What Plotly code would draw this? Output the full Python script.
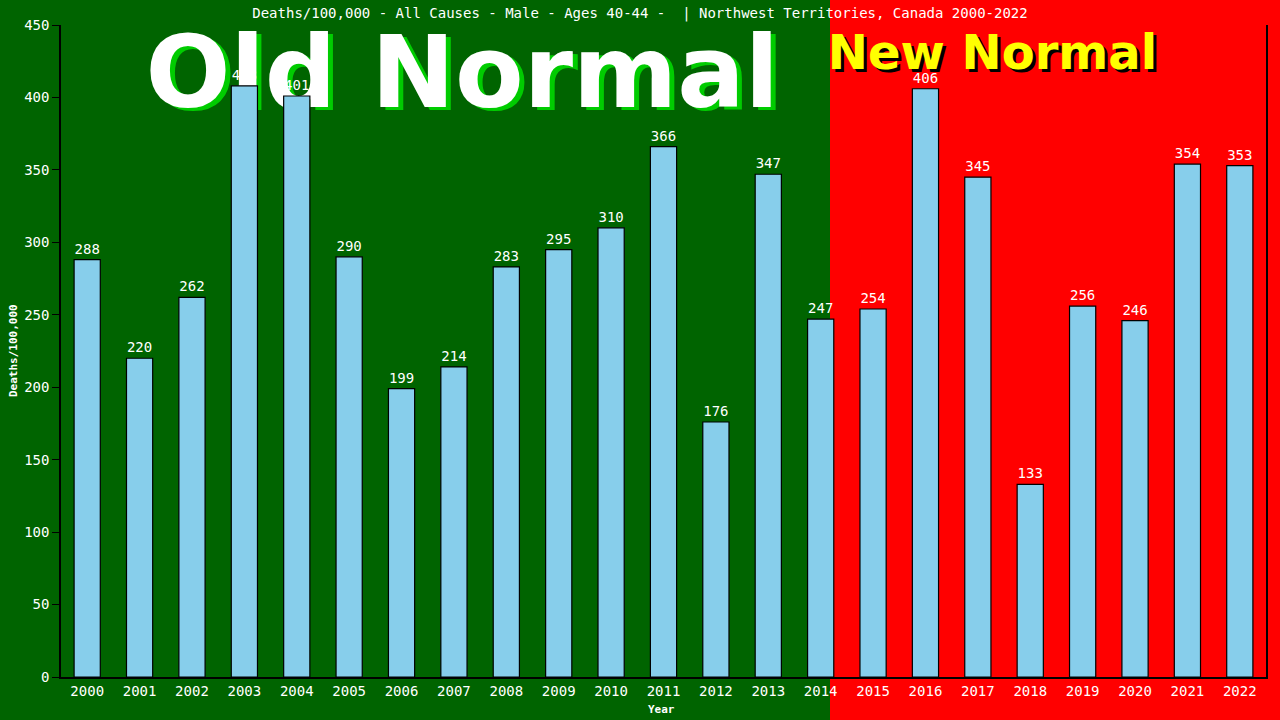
import plotly.graph_objects as go

YEARS = [str(y) for y in range(2000, 2023)]
DEATHS = [288, 220, 262, 408, 401, 290, 199, 214, 283, 295, 310, 366,
          176, 347, 247, 254, 406, 345, 133, 256, 246, 354, 353]
Y_TICKS = list(range(0, 451, 50))

TITLE = "Deaths/100,000 - All Causes - Male - Ages 40-44 -  | Northwest Territories, Canada 2000-2022"
X_TITLE = "Year"
Y_TITLE = "Deaths/100,000"
MONO = "DejaVu Sans Mono, monospace"
BIG = "DejaVu Sans, sans-serif"

W, H = 1280, 720
L, R, T, B = 61, 14, 25, 43
PW, PH = W - L - R, H - T - B


def px(dx, dy):
    return dx / PW, dy / PH


fig = go.Figure()

# banner texts on the base axes (drawn underneath the bars)
def banner(text, x, y, size, color, shadow, off):
    ox, oy = px(*off)
    fig.add_trace(go.Scatter(x=[x + ox], y=[y - oy], mode="text", text=[f"<b>{text}</b>"],
                             textfont=dict(family=BIG, size=size, color=shadow),
                             hoverinfo="skip", showlegend=False, cliponaxis=False))
    fig.add_trace(go.Scatter(x=[x], y=[y], mode="text", text=[f"<b>{text}</b>"],
                             textfont=dict(family=BIG, size=size, color=color),
                             hoverinfo="skip", showlegend=False, cliponaxis=False))


banner("Old Normal", 0.333, 0.912, 100, "white", "#00cc00", (5, 3))
banner("New Normal", 0.773, 0.951, 48, "#ffff00", "black", (3, 3))

fig.add_trace(go.Bar(
    x=YEARS, y=DEATHS, xaxis="x2", yaxis="y2",
    width=0.5,
    marker=dict(color="#87ceeb", line=dict(color="black", width=1.2)),
    text=[str(v) for v in DEATHS], textposition="outside",
    textfont=dict(family=MONO, size=14, color="white"),
    cliponaxis=False, showlegend=False,
))

axis_title_font = dict(family=MONO, size=11, color="white")

fig.update_layout(
    width=W, height=H,
    margin=dict(l=L, r=R, t=T, b=B),
    paper_bgcolor="#006400",
    plot_bgcolor="rgba(0,0,0,0)",
    title=dict(text=TITLE, x=0.5, xanchor="center", y=1 - 13 / H, yanchor="middle",
               font=dict(family=MONO, size=14, color="white")),
    xaxis=dict(range=[0, 1], visible=False, fixedrange=True),
    yaxis=dict(range=[0, 1], visible=False, fixedrange=True),
    xaxis2=dict(type="category", overlaying="x", anchor="y2", side="bottom",
                automargin=False,
                showline=True, linecolor="black", linewidth=1.5, ticks="",
                showgrid=False, tickfont=dict(family=MONO, size=14, color="white")),
    yaxis2=dict(overlaying="y", anchor="x2", range=[0, 450], tickvals=Y_TICKS,
                automargin=False,
                showline=True, mirror=True, linecolor="black", linewidth=1.5,
                ticks="outside", ticklen=7, tickcolor="black", showgrid=False,
                zeroline=False, tickfont=dict(family=MONO, size=14, color="white")),
    annotations=[
        dict(text=f"<b>{X_TITLE}</b>", xref="paper", yref="paper", x=(661 - L) / PW,
             y=-32 / PH, showarrow=False, font=axis_title_font,
             xanchor="center", yanchor="middle"),
        dict(text=f"<b>{Y_TITLE}</b>", xref="paper", yref="paper", x=(13 - L) / PW,
             y=(677 - 351) / PH, showarrow=False, font=axis_title_font, textangle=-90,
             xanchor="center", yanchor="middle"),
    ],
    shapes=[dict(type="rect", xref="paper", yref="paper", x0=(830 - L) / PW, x1=1.2,
                 y0=-0.2, y1=1.2, fillcolor="#ff0000", line=dict(width=0), layer="below")],
    bargap=0.5,
)

fig.write_html("out.html", config={"displayModeBar": False},
               post_script="document.body.style.margin='0';document.body.style.overflow='hidden';")
